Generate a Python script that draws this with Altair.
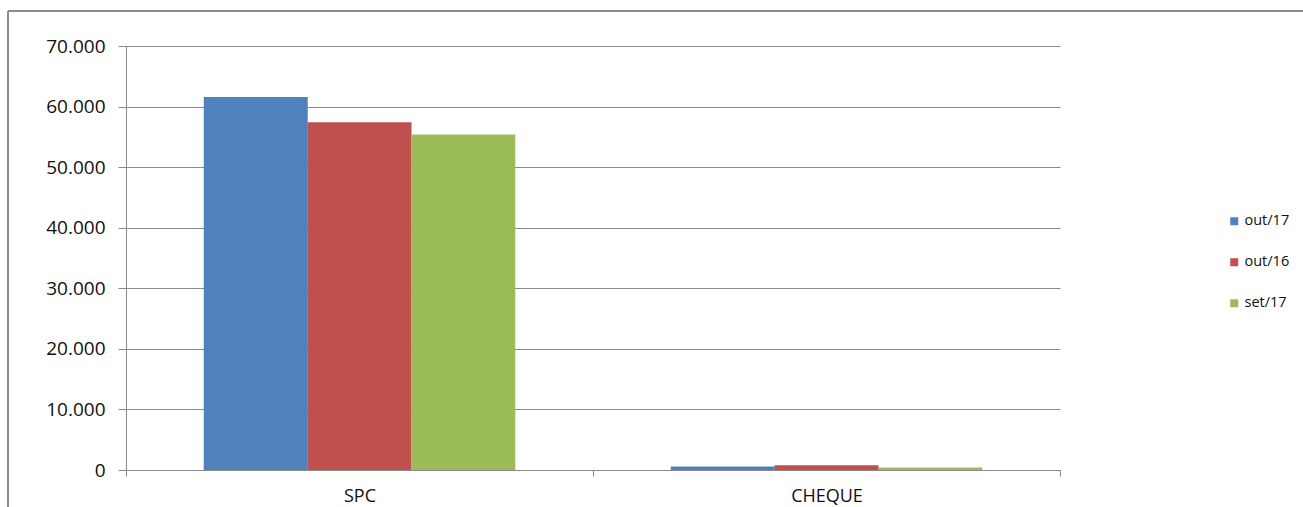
import altair as alt
import pandas as pd

# Monthly volumes by channel
categories = ["SPC", "CHEQUE"]
periods = ["out/17", "out/16", "set/17"]
spc_values = [61600, 57400, 55400]
cheque_values = [560, 780, 400]
colors = ["#4F81BD", "#C0504D", "#9BBB59"]

rows = []
for cat, vals in zip(categories, [spc_values, cheque_values]):
    for p, v in zip(periods, vals):
        rows.append({"canal": cat, "periodo": p, "valor": v})
df = pd.DataFrame(rows)

FONT = "Open Sans"
GRID = "#8A8A8A"
W, H = 934, 424
LEFT, TOP = 126, 46

bars = alt.Chart(df).mark_bar(size=104).encode(
    x=alt.X(
        "canal:N",
        sort=categories,
        title=None,
        scale=alt.Scale(paddingInner=0, paddingOuter=0),
        axis=alt.Axis(
            labelAngle=0,
            labelFont=FONT,
            labelFontSize=18,
            labelColor="#111111",
            labelPadding=11,
            tickBand="extent",
            tickSize=6,
            tickColor=GRID,
            domainColor=GRID,
            grid=False,
        ),
    ),
    xOffset=alt.XOffset(
        "periodo:N",
        sort=periods,
        scale=alt.Scale(paddingInner=0, paddingOuter=0.75),
    ),
    y=alt.Y(
        "valor:Q",
        title=None,
        scale=alt.Scale(domain=[0, 70000], nice=False),
        axis=alt.Axis(
            values=[0, 10000, 20000, 30000, 40000, 50000, 60000, 70000],
            labelExpr="replace(format(datum.value, ',d'), ',', '.')",
            labelFont=FONT,
            labelFontSize=19,
            labelColor="#111111",
            labelPadding=13,
            tickSize=8,
            tickColor=GRID,
            domainColor=GRID,
            gridColor=GRID,
            gridWidth=1,
        ),
    ),
    color=alt.Color(
        "periodo:N",
        sort=periods,
        scale=alt.Scale(domain=periods, range=colors),
        legend=alt.Legend(
            title=None,
            orient="none",
            legendX=1231 - LEFT - 4,
            legendY=214 - TOP,
            symbolType="square",
            symbolSize=64,
            symbolStrokeWidth=0,
            labelFont=FONT,
            labelFontSize=14.5,
            labelColor="#111111",
            labelOffset=3,
            rowPadding=26,
            padding=0,
        ),
    ),
)

# Outer chart-area frame (top and left edges)
frame_top = alt.Chart(df).mark_rule(color="#8C8C8C", strokeWidth=2).encode(
    x=alt.value(8 - LEFT), x2=alt.value(1303 - LEFT), y=alt.value(11 - TOP)
)
frame_left = alt.Chart(df).mark_rule(color="#8C8C8C", strokeWidth=2).encode(
    x=alt.value(8 - LEFT), y=alt.value(11 - TOP), y2=alt.value(507 - TOP)
)

chart = (
    alt.layer(bars, frame_top, frame_left)
    .properties(
        width=W,
        height=H,
        padding={"left": LEFT, "top": TOP, "right": 1303 - LEFT - W, "bottom": 507 - TOP - H},
        autosize=alt.AutoSizeParams(type="none"),
        background="#FFFFFF",
    )
    .configure_view(stroke=None)
)

chart.save("out.html", embed_options={"renderer": "svg", "actions": False})
